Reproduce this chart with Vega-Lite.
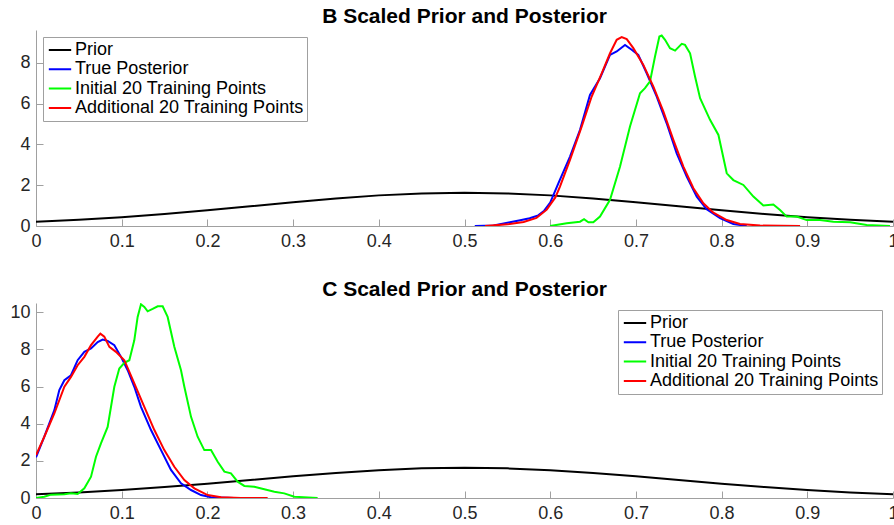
{
  "$schema": "https://vega.github.io/schema/vega-lite/v6.json",
  "background": "white",
  "padding": {"left": 9, "top": 5, "right": 0, "bottom": 0},
  "bounds": "flush",
  "spacing": 77,
  "config": {
    "font": "Liberation Sans",
    "view": {"stroke": null},
    "axis": {
      "grid": false,
      "labelFont": "Liberation Sans",
      "labelFontSize": 18,
      "labelColor": "#262626",
      "domainColor": "#a0a0a0",
      "tickColor": "#a0a0a0",
      "tickSize": -7,
      "labelPadding": 13,
      "labelFlush": false,
      "labelOverlap": false,
      "title": null
    },
    "title": {"font": "Liberation Sans", "fontSize": 21, "fontWeight": "bold", "color": "#000000", "offset": 3.5, "anchor": "middle"},
    "legend": {
      "labelFont": "Liberation Sans",
      "labelFontSize": 18,
      "labelColor": "#000000",
      "labelLimit": 0,
      "symbolType": "stroke",
      "symbolStrokeWidth": 2,
      "symbolSize": 500,
      "symbolOffset": 1,
      "labelOffset": 2.5,
      "clipHeight": 19,
      "rowPadding": 0.3,
      "padding": 3.5,
      "strokeColor": "#a0a0a0",
      "fillColor": "white",
      "title": null
    }
  },
  "datasets": {
    "rows": [
      {"panel":"B","series":"Prior","x":0,"y":0.203},{"panel":"B","series":"Prior","x":0.05,"y":0.301},{"panel":"B","series":"Prior","x":0.1,"y":0.43},{"panel":"B","series":"Prior","x":0.15,"y":0.587},{"panel":"B","series":"Prior","x":0.2,"y":0.77},{"panel":"B","series":"Prior","x":0.25,"y":0.968},{"panel":"B","series":"Prior","x":0.3,"y":1.168},{"panel":"B","series":"Prior","x":0.35,"y":1.351},{"panel":"B","series":"Prior","x":0.4,"y":1.5},{"panel":"B","series":"Prior","x":0.45,"y":1.596},{"panel":"B","series":"Prior","x":0.5,"y":1.63},{"panel":"B","series":"Prior","x":0.55,"y":1.596},{"panel":"B","series":"Prior","x":0.6,"y":1.5},{"panel":"B","series":"Prior","x":0.65,"y":1.351},{"panel":"B","series":"Prior","x":0.7,"y":1.168},{"panel":"B","series":"Prior","x":0.75,"y":0.968},{"panel":"B","series":"Prior","x":0.8,"y":0.77},{"panel":"B","series":"Prior","x":0.85,"y":0.587},{"panel":"B","series":"Prior","x":0.9,"y":0.43},{"panel":"B","series":"Prior","x":0.95,"y":0.301},{"panel":"B","series":"Prior","x":1,"y":0.203},
      {"panel":"B","series":"True Posterior","x":0.512,"y":0},{"panel":"B","series":"True Posterior","x":0.534,"y":0.03},{"panel":"B","series":"True Posterior","x":0.553,"y":0.18},{"panel":"B","series":"True Posterior","x":0.565,"y":0.28},{"panel":"B","series":"True Posterior","x":0.576,"y":0.38},{"panel":"B","series":"True Posterior","x":0.586,"y":0.52},{"panel":"B","series":"True Posterior","x":0.593,"y":0.75},{"panel":"B","series":"True Posterior","x":0.6,"y":1.15},{"panel":"B","series":"True Posterior","x":0.6095,"y":2.09},{"panel":"B","series":"True Posterior","x":0.6231,"y":3.4},{"panel":"B","series":"True Posterior","x":0.6348,"y":4.71},{"panel":"B","series":"True Posterior","x":0.6464,"y":6.42},{"panel":"B","series":"True Posterior","x":0.6581,"y":7.24},{"panel":"B","series":"True Posterior","x":0.6698,"y":8.38},{"panel":"B","series":"True Posterior","x":0.6776,"y":8.55},{"panel":"B","series":"True Posterior","x":0.6873,"y":8.87},{"panel":"B","series":"True Posterior","x":0.6951,"y":8.63},{"panel":"B","series":"True Posterior","x":0.7028,"y":8.38},{"panel":"B","series":"True Posterior","x":0.7126,"y":7.48},{"panel":"B","series":"True Posterior","x":0.7243,"y":6.34},{"panel":"B","series":"True Posterior","x":0.7359,"y":5.03},{"panel":"B","series":"True Posterior","x":0.7476,"y":3.56},{"panel":"B","series":"True Posterior","x":0.7593,"y":2.42},{"panel":"B","series":"True Posterior","x":0.771,"y":1.44},{"panel":"B","series":"True Posterior","x":0.7826,"y":0.82},{"panel":"B","series":"True Posterior","x":0.7982,"y":0.38},{"panel":"B","series":"True Posterior","x":0.8137,"y":0.1},{"panel":"B","series":"True Posterior","x":0.8293,"y":0},
      {"panel":"B","series":"Initial 20 Training Points","x":0.5998,"y":0},{"panel":"B","series":"Initial 20 Training Points","x":0.6193,"y":0.13},{"panel":"B","series":"Initial 20 Training Points","x":0.6348,"y":0.21},{"panel":"B","series":"Initial 20 Training Points","x":0.6395,"y":0.33},{"panel":"B","series":"Initial 20 Training Points","x":0.6446,"y":0.18},{"panel":"B","series":"Initial 20 Training Points","x":0.6503,"y":0.18},{"panel":"B","series":"Initial 20 Training Points","x":0.6581,"y":0.46},{"panel":"B","series":"Initial 20 Training Points","x":0.6698,"y":1.28},{"panel":"B","series":"Initial 20 Training Points","x":0.6815,"y":2.91},{"panel":"B","series":"Initial 20 Training Points","x":0.6931,"y":4.87},{"panel":"B","series":"Initial 20 Training Points","x":0.7048,"y":6.5},{"panel":"B","series":"Initial 20 Training Points","x":0.7106,"y":6.75},{"panel":"B","series":"Initial 20 Training Points","x":0.7165,"y":7.08},{"panel":"B","series":"Initial 20 Training Points","x":0.7223,"y":8.3},{"panel":"B","series":"Initial 20 Training Points","x":0.7274,"y":9.28},{"panel":"B","series":"Initial 20 Training Points","x":0.7301,"y":9.33},{"panel":"B","series":"Initial 20 Training Points","x":0.734,"y":9.12},{"panel":"B","series":"Initial 20 Training Points","x":0.7398,"y":8.71},{"panel":"B","series":"Initial 20 Training Points","x":0.7457,"y":8.59},{"panel":"B","series":"Initial 20 Training Points","x":0.7535,"y":8.92},{"panel":"B","series":"Initial 20 Training Points","x":0.7573,"y":8.87},{"panel":"B","series":"Initial 20 Training Points","x":0.7632,"y":8.46},{"panel":"B","series":"Initial 20 Training Points","x":0.769,"y":7.32},{"panel":"B","series":"Initial 20 Training Points","x":0.7749,"y":6.26},{"panel":"B","series":"Initial 20 Training Points","x":0.7865,"y":5.2},{"panel":"B","series":"Initial 20 Training Points","x":0.7963,"y":4.46},{"panel":"B","series":"Initial 20 Training Points","x":0.806,"y":2.58},{"panel":"B","series":"Initial 20 Training Points","x":0.8137,"y":2.25},{"panel":"B","series":"Initial 20 Training Points","x":0.8254,"y":2.01},{"panel":"B","series":"Initial 20 Training Points","x":0.8371,"y":1.44},{"panel":"B","series":"Initial 20 Training Points","x":0.8487,"y":1.0},{"panel":"B","series":"Initial 20 Training Points","x":0.8604,"y":1.05},{"panel":"B","series":"Initial 20 Training Points","x":0.8682,"y":0.78},{"panel":"B","series":"Initial 20 Training Points","x":0.876,"y":0.46},{"panel":"B","series":"Initial 20 Training Points","x":0.8876,"y":0.46},{"panel":"B","series":"Initial 20 Training Points","x":0.8993,"y":0.29},{"panel":"B","series":"Initial 20 Training Points","x":0.9148,"y":0.29},{"panel":"B","series":"Initial 20 Training Points","x":0.9304,"y":0.21},{"panel":"B","series":"Initial 20 Training Points","x":0.9499,"y":0.18},{"panel":"B","series":"Initial 20 Training Points","x":0.9693,"y":0.05},{"panel":"B","series":"Initial 20 Training Points","x":0.9965,"y":0},
      {"panel":"B","series":"Additional 20 Training Points","x":0.524,"y":0},{"panel":"B","series":"Additional 20 Training Points","x":0.55,"y":0.08},{"panel":"B","series":"Additional 20 Training Points","x":0.569,"y":0.2},{"panel":"B","series":"Additional 20 Training Points","x":0.584,"y":0.4},{"panel":"B","series":"Additional 20 Training Points","x":0.596,"y":0.8},{"panel":"B","series":"Additional 20 Training Points","x":0.606,"y":1.4},{"panel":"B","series":"Additional 20 Training Points","x":0.6114,"y":1.93},{"panel":"B","series":"Additional 20 Training Points","x":0.6231,"y":3.24},{"panel":"B","series":"Additional 20 Training Points","x":0.6367,"y":4.87},{"panel":"B","series":"Additional 20 Training Points","x":0.6484,"y":6.34},{"panel":"B","series":"Additional 20 Training Points","x":0.6601,"y":7.48},{"panel":"B","series":"Additional 20 Training Points","x":0.6698,"y":8.46},{"panel":"B","series":"Additional 20 Training Points","x":0.6776,"y":9.12},{"panel":"B","series":"Additional 20 Training Points","x":0.6834,"y":9.25},{"panel":"B","series":"Additional 20 Training Points","x":0.6893,"y":9.15},{"panel":"B","series":"Additional 20 Training Points","x":0.697,"y":8.71},{"panel":"B","series":"Additional 20 Training Points","x":0.7087,"y":7.89},{"panel":"B","series":"Additional 20 Training Points","x":0.7204,"y":6.83},{"panel":"B","series":"Additional 20 Training Points","x":0.732,"y":5.61},{"panel":"B","series":"Additional 20 Training Points","x":0.7437,"y":4.22},{"panel":"B","series":"Additional 20 Training Points","x":0.7554,"y":2.91},{"panel":"B","series":"Additional 20 Training Points","x":0.7671,"y":1.85},{"panel":"B","series":"Additional 20 Training Points","x":0.7787,"y":1.11},{"panel":"B","series":"Additional 20 Training Points","x":0.7904,"y":0.65},{"panel":"B","series":"Additional 20 Training Points","x":0.806,"y":0.29},{"panel":"B","series":"Additional 20 Training Points","x":0.8215,"y":0.1},{"panel":"B","series":"Additional 20 Training Points","x":0.8449,"y":0.02},{"panel":"B","series":"Additional 20 Training Points","x":0.8916,"y":0},
      {"panel":"C","series":"Prior","x":0,"y":0.203},{"panel":"C","series":"Prior","x":0.05,"y":0.301},{"panel":"C","series":"Prior","x":0.1,"y":0.43},{"panel":"C","series":"Prior","x":0.15,"y":0.587},{"panel":"C","series":"Prior","x":0.2,"y":0.77},{"panel":"C","series":"Prior","x":0.25,"y":0.968},{"panel":"C","series":"Prior","x":0.3,"y":1.168},{"panel":"C","series":"Prior","x":0.35,"y":1.351},{"panel":"C","series":"Prior","x":0.4,"y":1.5},{"panel":"C","series":"Prior","x":0.45,"y":1.596},{"panel":"C","series":"Prior","x":0.5,"y":1.63},{"panel":"C","series":"Prior","x":0.55,"y":1.596},{"panel":"C","series":"Prior","x":0.6,"y":1.5},{"panel":"C","series":"Prior","x":0.65,"y":1.351},{"panel":"C","series":"Prior","x":0.7,"y":1.168},{"panel":"C","series":"Prior","x":0.75,"y":0.968},{"panel":"C","series":"Prior","x":0.8,"y":0.77},{"panel":"C","series":"Prior","x":0.85,"y":0.587},{"panel":"C","series":"Prior","x":0.9,"y":0.43},{"panel":"C","series":"Prior","x":0.95,"y":0.301},{"panel":"C","series":"Prior","x":1,"y":0.203},
      {"panel":"C","series":"True Posterior","x":0,"y":2.19},{"panel":"C","series":"True Posterior","x":0.0097,"y":3.3},{"panel":"C","series":"True Posterior","x":0.0214,"y":4.73},{"panel":"C","series":"True Posterior","x":0.0272,"y":5.81},{"panel":"C","series":"True Posterior","x":0.0331,"y":6.34},{"panel":"C","series":"True Posterior","x":0.0408,"y":6.61},{"panel":"C","series":"True Posterior","x":0.0486,"y":7.42},{"panel":"C","series":"True Posterior","x":0.0564,"y":7.87},{"panel":"C","series":"True Posterior","x":0.0642,"y":8.05},{"panel":"C","series":"True Posterior","x":0.072,"y":8.4},{"panel":"C","series":"True Posterior","x":0.0778,"y":8.53},{"panel":"C","series":"True Posterior","x":0.0836,"y":8.46},{"panel":"C","series":"True Posterior","x":0.0914,"y":8.23},{"panel":"C","series":"True Posterior","x":0.0992,"y":7.6},{"panel":"C","series":"True Posterior","x":0.107,"y":6.88},{"panel":"C","series":"True Posterior","x":0.1147,"y":5.99},{"panel":"C","series":"True Posterior","x":0.1225,"y":4.91},{"panel":"C","series":"True Posterior","x":0.1342,"y":3.66},{"panel":"C","series":"True Posterior","x":0.1459,"y":2.58},{"panel":"C","series":"True Posterior","x":0.1575,"y":1.51},{"panel":"C","series":"True Posterior","x":0.1692,"y":0.79},{"panel":"C","series":"True Posterior","x":0.1809,"y":0.43},{"panel":"C","series":"True Posterior","x":0.1925,"y":0.16},{"panel":"C","series":"True Posterior","x":0.2042,"y":0.04},{"panel":"C","series":"True Posterior","x":0.2314,"y":0},
      {"panel":"C","series":"Initial 20 Training Points","x":0,"y":0},{"panel":"C","series":"Initial 20 Training Points","x":0.0097,"y":0.07},{"panel":"C","series":"Initial 20 Training Points","x":0.0175,"y":0.18},{"panel":"C","series":"Initial 20 Training Points","x":0.0331,"y":0.2},{"panel":"C","series":"Initial 20 Training Points","x":0.0408,"y":0.25},{"panel":"C","series":"Initial 20 Training Points","x":0.0486,"y":0.22},{"panel":"C","series":"Initial 20 Training Points","x":0.0564,"y":0.52},{"panel":"C","series":"Initial 20 Training Points","x":0.0642,"y":1.15},{"panel":"C","series":"Initial 20 Training Points","x":0.07,"y":2.22},{"panel":"C","series":"Initial 20 Training Points","x":0.0758,"y":2.94},{"panel":"C","series":"Initial 20 Training Points","x":0.0836,"y":3.83},{"panel":"C","series":"Initial 20 Training Points","x":0.0914,"y":5.99},{"panel":"C","series":"Initial 20 Training Points","x":0.0972,"y":6.97},{"panel":"C","series":"Initial 20 Training Points","x":0.1031,"y":7.28},{"panel":"C","series":"Initial 20 Training Points","x":0.1089,"y":7.42},{"panel":"C","series":"Initial 20 Training Points","x":0.1147,"y":8.49},{"panel":"C","series":"Initial 20 Training Points","x":0.1186,"y":9.75},{"panel":"C","series":"Initial 20 Training Points","x":0.1225,"y":10.43},{"panel":"C","series":"Initial 20 Training Points","x":0.1264,"y":10.29},{"panel":"C","series":"Initial 20 Training Points","x":0.1303,"y":10.05},{"panel":"C","series":"Initial 20 Training Points","x":0.1361,"y":10.18},{"panel":"C","series":"Initial 20 Training Points","x":0.142,"y":10.32},{"panel":"C","series":"Initial 20 Training Points","x":0.1478,"y":10.32},{"panel":"C","series":"Initial 20 Training Points","x":0.1536,"y":9.75},{"panel":"C","series":"Initial 20 Training Points","x":0.1614,"y":8.14},{"panel":"C","series":"Initial 20 Training Points","x":0.1692,"y":6.88},{"panel":"C","series":"Initial 20 Training Points","x":0.1731,"y":5.99},{"panel":"C","series":"Initial 20 Training Points","x":0.1809,"y":4.37},{"panel":"C","series":"Initial 20 Training Points","x":0.1886,"y":3.3},{"panel":"C","series":"Initial 20 Training Points","x":0.1964,"y":2.58},{"panel":"C","series":"Initial 20 Training Points","x":0.2042,"y":2.58},{"panel":"C","series":"Initial 20 Training Points","x":0.212,"y":1.95},{"panel":"C","series":"Initial 20 Training Points","x":0.2198,"y":1.42},{"panel":"C","series":"Initial 20 Training Points","x":0.2275,"y":1.33},{"panel":"C","series":"Initial 20 Training Points","x":0.2353,"y":0.88},{"panel":"C","series":"Initial 20 Training Points","x":0.2431,"y":0.65},{"panel":"C","series":"Initial 20 Training Points","x":0.2547,"y":0.61},{"panel":"C","series":"Initial 20 Training Points","x":0.2664,"y":0.47},{"panel":"C","series":"Initial 20 Training Points","x":0.2781,"y":0.34},{"panel":"C","series":"Initial 20 Training Points","x":0.2897,"y":0.25},{"panel":"C","series":"Initial 20 Training Points","x":0.3014,"y":0.07},{"panel":"C","series":"Initial 20 Training Points","x":0.3286,"y":0},
      {"panel":"C","series":"Additional 20 Training Points","x":0,"y":2.31},{"panel":"C","series":"Additional 20 Training Points","x":0.0097,"y":3.3},{"panel":"C","series":"Additional 20 Training Points","x":0.0214,"y":4.55},{"panel":"C","series":"Additional 20 Training Points","x":0.0331,"y":5.99},{"panel":"C","series":"Additional 20 Training Points","x":0.0408,"y":6.52},{"panel":"C","series":"Additional 20 Training Points","x":0.0486,"y":7.15},{"panel":"C","series":"Additional 20 Training Points","x":0.0564,"y":7.6},{"panel":"C","series":"Additional 20 Training Points","x":0.0642,"y":8.23},{"panel":"C","series":"Additional 20 Training Points","x":0.072,"y":8.69},{"panel":"C","series":"Additional 20 Training Points","x":0.0751,"y":8.85},{"panel":"C","series":"Additional 20 Training Points","x":0.0797,"y":8.69},{"panel":"C","series":"Additional 20 Training Points","x":0.0856,"y":8.14},{"panel":"C","series":"Additional 20 Training Points","x":0.0933,"y":7.87},{"panel":"C","series":"Additional 20 Training Points","x":0.1031,"y":7.42},{"panel":"C","series":"Additional 20 Training Points","x":0.1147,"y":6.17},{"panel":"C","series":"Additional 20 Training Points","x":0.1264,"y":4.91},{"panel":"C","series":"Additional 20 Training Points","x":0.1381,"y":3.66},{"panel":"C","series":"Additional 20 Training Points","x":0.1497,"y":2.58},{"panel":"C","series":"Additional 20 Training Points","x":0.1614,"y":1.68},{"panel":"C","series":"Additional 20 Training Points","x":0.1731,"y":0.97},{"panel":"C","series":"Additional 20 Training Points","x":0.1848,"y":0.52},{"panel":"C","series":"Additional 20 Training Points","x":0.2003,"y":0.16},{"panel":"C","series":"Additional 20 Training Points","x":0.2159,"y":0.04},{"panel":"C","series":"Additional 20 Training Points","x":0.2392,"y":0},{"panel":"C","series":"Additional 20 Training Points","x":0.2703,"y":0}
    ]
  },
  "resolve": {"scale": {"x": "independent", "y": "independent", "color": "independent"}, "legend": {"color": "independent"}},
  "vconcat": [
    {
      "title": "B Scaled Prior and Posterior",
      "width": 857,
      "height": 196,
      "data": {"name": "rows"},
      "transform": [{"filter": "datum.panel === 'B'"}],
      "mark": {"type": "line", "strokeWidth": 2, "clip": true},
      "encoding": {
        "x": {"field": "x", "type": "quantitative", "scale": {"domain": [0, 1], "nice": false}, "axis": {"values": [0,0.1,0.2,0.3,0.4,0.5,0.6,0.7,0.8,0.9,1], "format": "~f"}},
        "y": {"field": "y", "type": "quantitative", "scale": {"domain": [0, 9.6], "nice": false}, "axis": {"values": [0,2,4,6,8], "format": "~f"}},
        "color": {"field": "series", "type": "nominal",
          "scale": {"domain": ["Prior","True Posterior","Initial 20 Training Points","Additional 20 Training Points"], "range": ["#000000","#0000ff","#00ff00","#ff0000"]},
          "legend": {"orient": "none", "legendX": 7, "legendY": 7}}
      }
    },
    {
      "title": "C Scaled Prior and Posterior",
      "width": 857,
      "height": 195,
      "data": {"name": "rows"},
      "transform": [{"filter": "datum.panel === 'C'"}],
      "mark": {"type": "line", "strokeWidth": 2, "clip": true},
      "encoding": {
        "x": {"field": "x", "type": "quantitative", "scale": {"domain": [0, 1], "nice": false}, "axis": {"values": [0,0.1,0.2,0.3,0.4,0.5,0.6,0.7,0.8,0.9,1], "format": "~f"}},
        "y": {"field": "y", "type": "quantitative", "scale": {"domain": [0, 10.5], "nice": false}, "axis": {"values": [0,2,4,6,8,10], "format": "~f"}},
        "color": {"field": "series", "type": "nominal",
          "scale": {"domain": ["Prior","True Posterior","Initial 20 Training Points","Additional 20 Training Points"], "range": ["#000000","#0000ff","#00ff00","#ff0000"]},
          "legend": {"orient": "none", "legendX": 582, "legendY": 7}}
      }
    }
  ]
}
